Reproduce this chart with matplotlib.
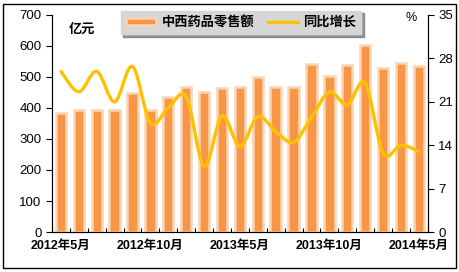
import matplotlib
matplotlib.use('Agg')
import matplotlib.pyplot as plt
from matplotlib.path import Path
from matplotlib.patches import PathPatch, Rectangle
from matplotlib.lines import Line2D
import numpy as np

plt.rcParams['font.family'] = ['Liberation Sans', 'Noto Sans CJK SC', 'DejaVu Sans']

# ─── Data ────────────────────────────────────────────────────────────────────
months = ['2012年5月', '2012年6月', '2012年7月', '2012年8月', '2012年9月',
          '2012年10月', '2012年11月', '2012年12月', '2013年3月', '2013年4月',
          '2013年5月', '2013年6月', '2013年7月', '2013年8月', '2013年9月',
          '2013年10月', '2013年11月', '2013年12月', '2014年3月', '2014年4月',
          '2014年5月']
sales = [385, 395, 392, 395, 447, 395, 435, 469, 453, 463, 467,
         499, 467, 467, 542, 504, 540, 604, 528, 545, 535]
growth = [25.9, 22.6, 25.9, 21.0, 26.7, 17.6, 20.0, 21.8, 10.6, 18.7, 13.8,
          18.6, 16.2, 14.5, 18.5, 22.6, 20.5, 24.0, 12.7, 14.0, 13.0]
label_idx = [0, 5, 10, 15, 20]

BAR_FILL = '#F79646'
BAR_EDGE = '#FBD4B4'
LINE_COL = '#FFC000'

# ─── Plot ────────────────────────────────────────────────────────────────────
fig = plt.figure(figsize=(4.6, 2.72), dpi=100)
ax = fig.add_axes([0.113, 0.147, 0.817, 0.798])
x = np.arange(len(months))

ax.bar(x, sales, width=0.58, color=BAR_FILL, edgecolor=BAR_EDGE, linewidth=1.8, zorder=2)
ax.set_xlim(-0.5, len(months) - 0.5)
ax.set_ylim(0, 700)
ax.set_yticks(range(0, 701, 100))
ax.set_xticks(label_idx)
ax.set_xticklabels([months[i] for i in label_idx], fontsize=9, fontweight='bold')
ax.set_xticks(np.arange(-0.5, len(months)), minor=True)
ax.tick_params(axis='x', which='major', length=0, pad=6)
ax.tick_params(axis='x', which='minor', direction='in', length=3, width=0.8)
ax.tick_params(axis='y', direction='out', length=4, width=0.8, labelsize=9.5)
ax.spines['top'].set_visible(False)
for s in ['left', 'bottom', 'right']:
    ax.spines[s].set_linewidth(0.8)

ax2 = ax.twinx()
ax2.set_ylim(0, 35)
ax2.set_yticks(range(0, 36, 7))
ax2.tick_params(axis='y', direction='out', length=4, width=0.8, labelsize=9.5)
ax2.spines['top'].set_visible(False)
ax2.spines['right'].set_linewidth(0.8)

# smoothed line (Excel-style bezier through the data points)
pts = np.column_stack([x, growth])
verts = [pts[0]]
codes = [Path.MOVETO]
for i in range(len(pts) - 1):
    p0 = pts[i - 1] if i > 0 else pts[i]
    p1, p2 = pts[i], pts[i + 1]
    p3 = pts[i + 2] if i + 2 < len(pts) else pts[i + 1]
    c1 = p1 + (p2 - p0) / 6.0
    c2 = p2 - (p3 - p1) / 6.0
    verts += [c1, c2, p2]
    codes += [Path.CURVE4] * 3
ax2.add_patch(PathPatch(Path(verts, codes), facecolor='none', edgecolor=LINE_COL,
                        linewidth=2.4, capstyle='round', joinstyle='round', zorder=3))

ax.text(0.045, 0.93, '亿元', transform=ax.transAxes, fontsize=9.5, fontweight='bold',
        ha='left', va='center')
ax.text(0.955, 0.985, '%', transform=ax.transAxes, fontsize=9, ha='center', va='center')

# legend
h1 = Rectangle((0, 0), 1, 1, facecolor=BAR_FILL, edgecolor=BAR_EDGE, linewidth=1.8)
h2 = Line2D([], [], color=LINE_COL, linewidth=2.4)
leg = fig.legend([h1, h2], ['中西药品零售额', '同比增长'], loc='center',
                 bbox_to_anchor=(0.524, 0.918), ncol=2, frameon=True, fancybox=False,
                 shadow=True, facecolor='#D6D6D6', edgecolor='#D6D6D6',
                 prop={'size': 9.5, 'weight': 'bold'}, handlelength=2.3,
                 handleheight=0.45, handletextpad=0.4, columnspacing=1.0,
                 borderpad=0.4, framealpha=1)

# outer border
fig.patches.append(Rectangle((0.007, 0.013), 0.984, 0.972, transform=fig.transFigure,
                             fill=False, edgecolor='black', linewidth=1.0))

fig.savefig('out.png', dpi=100)
plt.close()
